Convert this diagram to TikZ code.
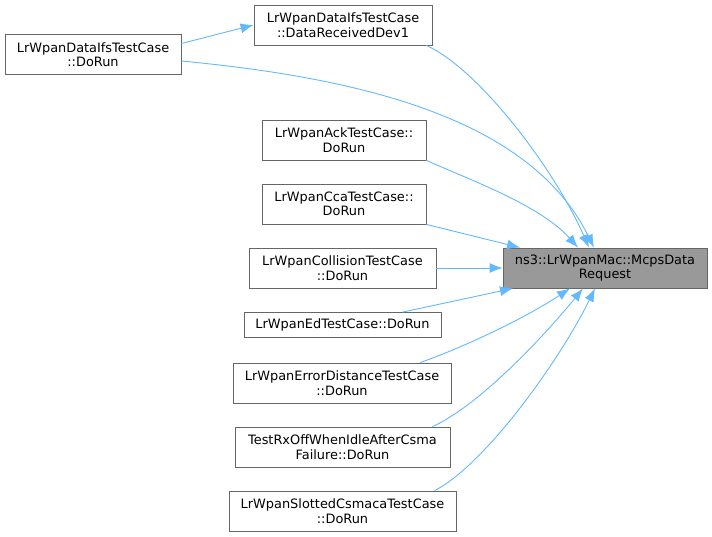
\documentclass[tikz,border=0pt]{standalone}
\usepackage{fontspec}
\setmainfont{DejaVu Sans}
\usetikzlibrary{calc,arrows.meta}
\definecolor{edgeblue}{HTML}{63B8FF}
\definecolor{boxline}{HTML}{666666}
\definecolor{boxfill}{HTML}{999999}

\begin{document}
\begin{tikzpicture}[x=1pt,y=-1pt,
    fn/.style={draw=boxline,line width=0.8pt,fill=white,align=center,inner sep=0pt,
      minimum height=40pt,font=\fontsize{12.9}{14.5}\selectfont},
    callee/.style={fn,fill=boxfill},
    call/.style={draw=edgeblue,line width=0.9pt,-{Latex[length=13pt,width=10pt]}}]
    \useasboundingbox (0,0) rectangle (712,536); % keeps the margins

    \node[callee,minimum width=204pt] (mcps) at (605,268) {ns3::LrWpanMac::McpsData\\Request};

    \node[fn,minimum width=176pt] (dorun) at (93,54.5) {LrWpanDataIfsTestCase\\::DoRun};
    \node[fn,minimum width=178pt] (recv) at (343,25) {LrWpanDataIfsTestCase\\::DataReceivedDev1};
    \node[fn,minimum width=164pt] (ack) at (344,140) {LrWpanAckTestCase::\\DoRun};
    \node[fn,minimum width=164pt] (cca) at (344,204) {LrWpanCcaTestCase::\\DoRun};
    \node[fn,minimum width=187pt] (coll) at (342.5,268) {LrWpanCollisionTestCase\\::DoRun};
    \node[fn,minimum width=197pt,minimum height=25pt] (ed) at (342.5,325) {LrWpanEdTestCase::DoRun};
    \node[fn,minimum width=218pt] (errd) at (342,383) {LrWpanErrorDistanceTestCase\\::DoRun};
    \node[fn,minimum width=215pt] (rxoff) at (342.5,447) {TestRxOffWhenIdleAfterCsma\\Failure::DoRun};
    \node[fn,minimum width=227pt] (slot) at (342.5,511) {LrWpanSlottedCsmacaTestCase\\::DoRun};

    \draw[call] ($(dorun.east)+(0,-11)$) -- (recv.west);
    \draw[call] ($(dorun.east)+(0,6.5)$) .. controls (360,78) and (530,118) .. ($(mcps.north)+(-11,0)$);
    \draw[call] ($(recv.south east)+(-6,0)$) .. controls (480,70) and (555,170) .. ($(mcps.north)+(-16,0)$);
    \draw[call] (ack.south east) .. controls (470,180) and (540,205) .. ($(mcps.north)+(-27,0)$);
    \draw[call] (cca.south east) -- ($(mcps.north)+(-85,0)$);
    \draw[call] (coll.east) -- (mcps.west);
    \draw[call] ($(ed.north)+(60,0)$) -- ($(mcps.south)+(-92,0)$);
    \draw[call] ($(errd.north)+(78,0)$) .. controls (470,345) and (530,315) .. ($(mcps.south)+(-35,0)$);
    \draw[call] ($(rxoff.north)+(90,0)$) .. controls (480,405) and (545,335) .. ($(mcps.south)+(-22,0)$);
    \draw[call] ($(slot.north)+(92,0)$) .. controls (485,465) and (560,360) .. ($(mcps.south)+(-10,0)$);
\end{tikzpicture}
\end{document}
